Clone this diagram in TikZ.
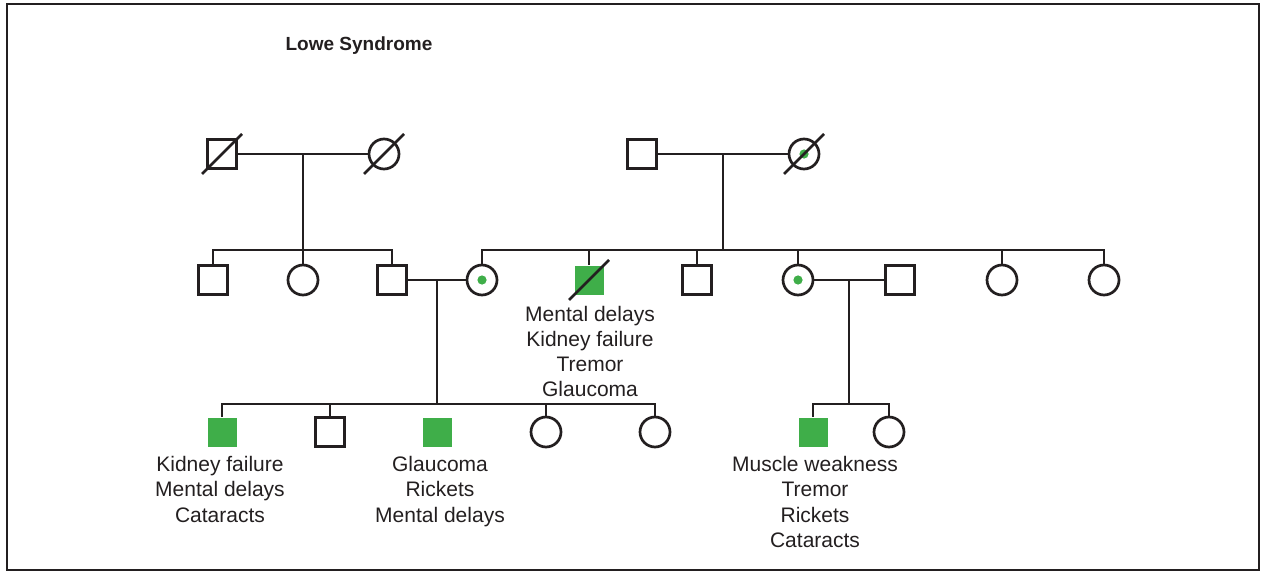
\documentclass[tikz,border=0pt]{standalone}
\usepackage{fontspec}
\setmainfont{Liberation Sans}
\definecolor{ink}{HTML}{231F20}
\definecolor{lgreen}{HTML}{3FAE49}
\tikzset{
  ln/.style={draw=ink, line width=1.35pt},
  male/.style={rectangle, draw=ink, line width=1.35pt, minimum size=14.5pt, inner sep=0pt},
  female/.style={circle, draw=ink, line width=1.35pt, minimum size=15pt, inner sep=0pt},
  affmale/.style={rectangle, fill=lgreen, minimum size=14.5pt, inner sep=0pt},
  carrier/.style={female, path picture={\fill[lgreen] (path picture bounding box.center) circle (2.3pt);}},
  lbl/.style={align=center, anchor=north, inner sep=0pt, text=ink, font=\fontsize{10.5pt}{12.6pt}\selectfont},
  ttl/.style={text=ink, inner sep=0pt, font=\fontsize{9.5pt}{11.5pt}\selectfont\bfseries}
}
\begin{document}
\begin{tikzpicture}[x=0.5pt, y=-0.5pt]
\useasboundingbox (0,0) rectangle (1267,572);
\draw[ink, line width=1.1pt] (7,4) rectangle (1259,570);
\node[ttl] (title) at (359,46) {Lowe Syndrome};

% Generation I
\node[male] (g1a) at (222,154) {};
\node[female] (g1b) at (384,154) {};
\node[male] (g1c) at (642,154) {};
\node[carrier] (g1d) at (804,154) {};
\draw[ln] ([shift={(-20,20)}]g1a.center) -- ([shift={(20,-20)}]g1a.center);
\draw[ln] ([shift={(-20,20)}]g1b.center) -- ([shift={(20,-20)}]g1b.center);
\draw[ln] ([shift={(-20,20)}]g1d.center) -- ([shift={(20,-20)}]g1d.center);
\coordinate (m1) at (303,154);
\coordinate (m2) at (723,154);
\coordinate (s1) at (303,250);
\coordinate (s2) at (723,250);
\draw[ln] (g1a.east) -- (g1b.west);
\draw[ln] (g1c.east) -- (g1d.west);
\draw[ln] (m1) -- (s1);
\draw[ln] (m2) -- (s2);

% Generation II
\node[male] (c1) at (213,280) {};
\node[female] (c2) at (303,280) {};
\node[male] (c3) at (392,280) {};
\node[carrier] (c4) at (482,280) {};
\node[affmale] (c5) at (589,280) {};
\node[male] (c6) at (697,280) {};
\node[carrier] (c7) at (798,280) {};
\node[male] (c8) at (900,280) {};
\node[female] (c9) at (1002,280) {};
\node[female] (c10) at (1104,280) {};
\draw[ln] ([shift={(-20,20)}]c5.center) -- ([shift={(20,-20)}]c5.center);

\draw[ln] (c1.north) |- (s1) -| (c3.north);
\draw[ln] (c2.north) -- (c2.north |- s1);
\draw[ln] (c4.north) |- (s2) -| (c10.north);
\foreach \c in {c5,c6,c7,c9} \draw[ln] (\c.north) -- (\c.north |- s2);

\node[lbl] (l5) at (590,305.5) {Mental delays\\Kidney failure\\Tremor\\Glaucoma};

% couples in generation II
\coordinate (m3) at (437,280);
\coordinate (m4) at (849,280);
\coordinate (s3) at (437,404);
\coordinate (s4) at (849,404);
\draw[ln] (c3.east) -- (c4.west);
\draw[ln] (c7.east) -- (c8.west);
\draw[ln] (m3) -- (s3);
\draw[ln] (m4) -- (s4);

% Generation III
\node[affmale] (d1) at (222,432) {};
\node[male] (d2) at (330,432) {};
\node[affmale] (d3) at (437,432) {};
\node[female] (d4) at (546,432) {};
\node[female] (d5) at (655,432) {};
\node[affmale] (d6) at (813,432) {};
\node[female] (d7) at (889,432) {};
\draw[ln] (d1.north) |- (s3) -| (d5.north);
\foreach \c in {d2,d4} \draw[ln] (\c.north) -- (\c.north |- s3);
\draw[ln] (d6.north) |- (s4) -| (d7.north);

\node[lbl] (l1) at (220,456) {Kidney failure\\Mental delays\\Cataracts};
\node[lbl] (l3) at (440,456) {Glaucoma\\Rickets\\Mental delays};
\node[lbl] (l6) at (815,456) {Muscle weakness\\Tremor\\Rickets\\Cataracts};
\end{tikzpicture}
\end{document}
